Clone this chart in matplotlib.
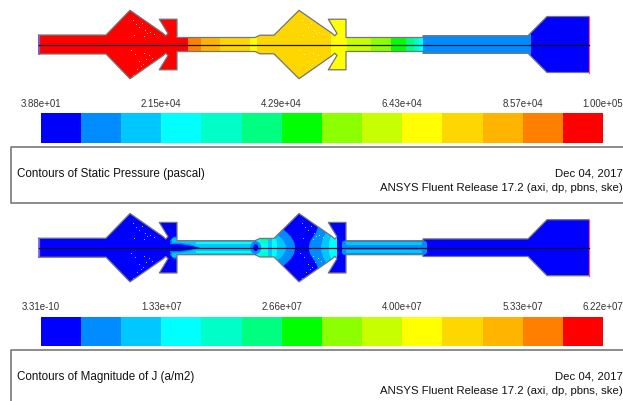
import matplotlib
matplotlib.use("Agg")
import matplotlib.pyplot as plt
from matplotlib.patches import Polygon, Ellipse

plt.rcParams['font.family'] = ['Liberation Sans', 'DejaVu Sans']

# 14 band Fluent colour map
band_colors = ["#0000ff", "#008cff", "#00c8ff", "#00ffff", "#00ffc8", "#00ff80", "#00ff00",
               "#8cff00", "#c8ff00", "#ffff00", "#ffd700", "#ffb400", "#ff8000", "#ff0000"]

pressure_ticks = ["3.88e+01", "2.15e+04", "4.29e+04", "6.43e+04", "8.57e+04", "1.00e+05"]
current_ticks = ["3.31e-10", "1.33e+07", "2.66e+07", "4.00e+07", "5.33e+07", "6.22e+07"]
tick_bands = [0, 3, 6, 9, 12, 14]

# nozzle outline, upper half: axial position, half height (image pixels)
wall_x = [38.5, 106, 130, 163.3, 165.7, 168, 159.3, 177, 177, 255, 260, 274, 299,
          332.3, 334.7, 337, 328.3, 346, 346, 423, 423, 528, 547, 589]
wall_h = [9.5, 9.5, 34.2, 11, 8.7, 11, 25.3, 25.3, 7, 7, 9.3, 9.3, 34.2,
          11, 8.7, 11, 25.3, 25.3, 7, 7, 8.8, 8.8, 28, 28]

# static pressure: band index per axial stretch
p_edges = [38, 188, 201, 220, 250, 257, 331, 347, 371, 391, 406, 414, 419, 423, 531, 590]
p_bands = [13, 12, 11, 10, 9, 10, 9, 8, 7, 6, 5, 4, 3, 1, 0]

# white specks in the diamonds: offset from the peak, signed half height
speck_dx = [3, 6, 12, 15, 4, 17, 9, 14, 20, 24, 1, 5, 9, 13, 16, 19, 7, 11, 22, 3, 14]
speck_h = [25, 21, 22, 15, 10, 12, 18, 9, 13, 11, -5, -9, -16, -19, -14, -10, -24, -21, -13, -30, -8]

# current density: regions on top of the blue background (x, half height), mirrored
j_layers = [
    (1, [170, 174, 178, 178, 174, 170], [7, 11, 11, 0, 0, 7]),
    (2, [172, 255, 255, 172], [9.5, 7, 0, 0]),
    (3, [196, 252, 252, 196], [5.6, 5.6, 3.5, 3.5]),
    (1, [170, 180, 190, 201, 190, 178, 170], [5, 5, 3.5, 0, 0, 0, 0]),
    (0, [170, 180, 190, 199, 190, 178, 170], [3.5, 3.5, 2, 0, 0, 0, 0]),
    (3, [256, 274, 274, 256], [10, 10, 0, 0]),
    (4, [260, 274, 274, 262], [9.5, 9.5, 3, 5]),
    (5, [261, 268, 268, 261], [9.5, 9.5, 8, 8]),
    (1, [268, 283, 287, 291, 294, 295, 295, 268], [25, 18.5, 15, 11, 6, 2, 0, 0]),
    (2, [268, 277, 281, 284, 285.5, 286, 286, 268], [25, 13, 10, 6, 3, 1, 0, 0]),
    (3, [272, 276, 277, 277, 272], [9, 9, 4, 0, 0]),
    (1, [332, 318, 316, 313, 310, 309, 309, 337, 337], [11, 21, 15, 11, 6, 2, 0, 0, 11]),
    (2, [332, 326, 323, 321.5, 321, 321, 337, 337], [11, 15.3, 9, 4, 1, 0, 0, 11]),
    (3, [337, 331, 329, 329, 337], [11, 11, 5, 0, 0]),
    (1, [342, 344, 346, 425, 427, 427, 342], [6, 7, 7, 7, 5, 0, 0]),
    (2, [346, 422, 422, 346], [5.6, 5.6, 2.5, 2.5]),
    (1, [343, 423, 423, 343], [2.5, 2.5, 0, 0]),
]


def draw_nozzle(ax, cy, fill):
    upper = [(x, cy - h) for x, h in zip(wall_x, wall_h)]
    lower = [(x, cy + h) for x, h in zip(wall_x, wall_h)]
    outline = Polygon(upper + lower[::-1], closed=True, fc="#0000ff", ec="none")
    ax.add_patch(outline)
    fill(cy, outline)
    for peak in (130, 299):
        dots = ax.scatter([peak + d for d in speck_dx], [cy - h for h in speck_h], s=0.6,
                          color="white", alpha=0.75, linewidths=0, zorder=3)
        dots.set_clip_path(outline)
    ax.plot(wall_x, [p[1] for p in upper], color="#777777", lw=0.9, zorder=4)
    ax.plot(wall_x, [p[1] for p in lower], color="#777777", lw=0.9, zorder=4)
    ax.plot([38.5, 38.5], [cy - wall_h[0], cy + wall_h[0]], color="#7a5ae0", lw=0.9, zorder=4)
    ax.plot([589, 589], [cy - wall_h[-1], cy + wall_h[-1]], color="#f0508c", lw=0.9, zorder=4)
    ax.plot([38.5, 589], [cy, cy], color="#101028", lw=0.9, zorder=5)


def fill_pressure(cy, outline):
    for i, b in enumerate(p_bands):
        span = ax.fill_between(p_edges[i:i + 2], cy - 40, cy + 40, color=band_colors[b], lw=0, zorder=2)
        span.set_clip_path(outline)


def fill_current(cy, outline):
    for b, xs, hs in j_layers:
        top = [(x, cy - h) for x, h in zip(xs, hs)]
        bot = [(x, cy + h) for x, h in zip(xs, hs)]
        poly = Polygon(top + bot[::-1], closed=True, fc=band_colors[b], ec="none", zorder=2)
        ax.add_patch(poly)
        poly.set_clip_path(outline)
    # dark spot at the throat
    for w, h, b in ((11, 13, 1), (5, 7, 0)):
        spot = Ellipse((255.7, cy), w, h, fc=band_colors[b], ec="none", zorder=2)
        ax.add_patch(spot)
        spot.set_clip_path(outline)


def draw_colorbar(ax, y0, y1, ticks, label_y):
    x0, x1 = 40.7, 603
    w = (x1 - x0) / len(band_colors)
    ax.bar([x0 + w * i for i in range(len(band_colors))], y1 - y0, width=w, bottom=y0,
           align="edge", color=band_colors, lw=0)
    for b, t in zip(tick_bands, ticks):
        ax.text(x0 + w * b, label_y, t, ha="center", va="center", fontsize=7.0, color="#333333")


fig = plt.figure(figsize=(6.23, 4.01), dpi=100)
ax = fig.add_axes([0, 0, 1, 1])
ax.set_xlim(0, 623)
ax.set_ylim(401, 0)
ax.axis("off")

draw_nozzle(ax, 44.5, fill_pressure)
draw_nozzle(ax, 247.7, fill_current)
draw_colorbar(ax, 113.3, 143.3, pressure_ticks, 104)
draw_colorbar(ax, 316.5, 346.3, current_ticks, 307)

# title boxes run off the right edge
box = dict(color="#6e6e6e", lw=1.1)
ax.plot([630, 10.5, 10.5, 630], [146.9, 146.9, 203.2, 203.2], **box)
ax.plot([630, 10.5, 10.5], [349.7, 349.7, 405], **box)

ax.text(17, 174, "Contours of Static Pressure (pascal)", va="center", fontsize=8.35, color="#111111")
ax.text(17, 376.7, "Contours of Magnitude of J (a/m2)", va="center", fontsize=8.35, color="#111111")
for y1, y2 in ((174, 187.7), (376.7, 390.7)):
    ax.text(622.5, y1, "Dec 04, 2017", ha="right", va="center", fontsize=8.2, color="#111111")
    ax.text(622.5, y2, "ANSYS Fluent Release 17.2 (axi, dp, pbns, ske)", ha="right", va="center",
            fontsize=8.2, color="#111111")

fig.savefig("out.png", dpi=100)
